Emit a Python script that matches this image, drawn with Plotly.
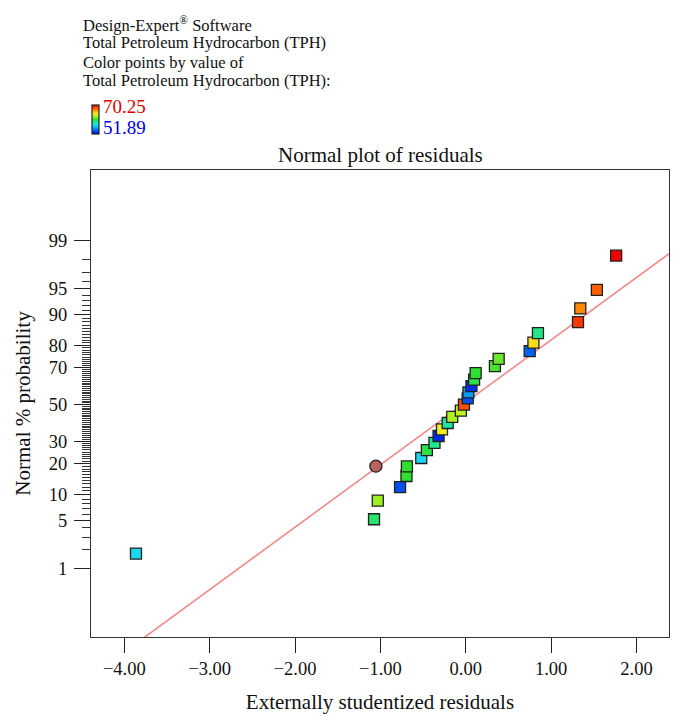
import plotly.graph_objects as go
from statistics import NormalDist

nd = NormalDist()

# ---- data ----
residuals = [-3.863, -1.075, -1.031, -0.770, -0.695, -0.690, -0.522, -0.456, -0.367, -0.319,
             -0.279, -0.212, -0.159, -0.058, -0.022, 0.022, 0.031, 0.066, 0.097, 0.115,
             0.341, 0.385, 0.748, 0.792, 0.845, 1.314, 1.341, 1.535, 1.761]
probabilities = [1.72, 5.17, 8.62, 12.07, 15.52, 18.97, 22.41, 25.86, 29.31, 32.76,
                 36.21, 39.66, 43.10, 46.55, 50.00, 53.45, 56.90, 60.34, 63.79, 67.24,
                 70.69, 74.14, 77.59, 81.03, 84.48, 87.93, 91.38, 94.83, 98.28]
tph = [57.40, 60.15, 62.91, 53.73, 61.07, 61.07, 57.40, 60.70, 59.60, 52.81,
       64.74, 59.23, 63.27, 63.64, 68.41, 53.73, 55.56, 52.99, 60.70, 61.07,
       61.44, 61.99, 54.09, 65.11, 59.78, 68.96, 67.13, 68.05, 70.25]

circle_residual = [-1.053]
circle_probability = [19.1]

line_x = [-4.39, 2.38]
line_intercept = 0.032
line_slope = 0.8865

tph_min, tph_max = 51.89, 70.25
y_tick_percents = [1, 5, 10, 20, 30, 50, 70, 80, 90, 95, 99]
y_minor_percents = list(range(1, 100))
x_tick_vals = [-4, -3, -2, -1, 0, 1, 2]
x_tick_text = ["\u22124.00", "\u22123.00", "\u22122.00", "\u22121.00", "0.00", "1.00", "2.00"]

def z(p):
    return nd.inv_cdf(p / 100.0)

colorscale = [[0.0, '#0000e8'], [0.12, '#0060f0'], [0.25, '#10c0f8'], [0.32, '#20e0f0'],
              [0.42, '#20e890'], [0.5, '#30e030'], [0.6, '#a0f020'], [0.7, '#f0f020'],
              [0.82, '#ff9000'], [0.9, '#ff5000'], [1.0, '#f00000']]

FONT = "Liberation Serif"
INK = '#111111'

# plot area in page pixels (page has an 8px body margin)
PX0, PX1, PY0, PY1 = 91, 669, 170, 637
def px(xp):
    return (xp - PX0) / (PX1 - PX0)
def py(yp):
    return (PY1 - yp) / (PY1 - PY0)

fig = go.Figure()

fig.add_trace(go.Scatter(
    x=line_x, y=[line_intercept + line_slope * v for v in line_x],
    mode='lines', line=dict(color='#f08a8a', width=1.6), hoverinfo='skip', showlegend=False))

fig.add_trace(go.Scatter(
    x=residuals, y=[z(p) for p in probabilities], mode='markers', showlegend=False,
    marker=dict(symbol='square', size=11, color=tph, colorscale=colorscale,
                cmin=tph_min, cmax=tph_max,
                line=dict(color='#202020', width=1.3),
                colorbar=dict(x=px(92), xanchor='left', xref='paper', y=py(119), yanchor='middle',
                              thickness=7, thicknessmode='pixels', len=29, lenmode='pixels',
                              showticklabels=False, ticks='', outlinewidth=1.2,
                              outlinecolor='#202020', xpad=0, ypad=0)),
    cliponaxis=False))

fig.add_trace(go.Scatter(
    x=circle_residual, y=[z(p) for p in circle_probability], mode='markers', showlegend=False,
    marker=dict(symbol='circle', size=12, color='#b86262', line=dict(color='#202020', width=1.3))))

fig.update_layout(
    width=676, height=718,
    margin=dict(l=83, r=15, t=162, b=89),
    paper_bgcolor='white', plot_bgcolor='white',
    font=dict(family=FONT, color=INK, size=17),
    xaxis=dict(range=[-4.39, 2.38], tickvals=x_tick_vals, ticktext=x_tick_text,
               ticks='outside', ticklen=15, tickwidth=1, tickcolor='#222222',
               showline=True, linecolor='#333333', linewidth=1, mirror=True,
               showgrid=False, zeroline=False,
               tickfont=dict(size=18.5, family=FONT),
               title=dict(text='Externally studentized residuals', font=dict(size=21, family=FONT),
                          standoff=16)),
    yaxis=dict(range=[-3.30, 3.33], tickvals=[z(p) for p in y_tick_percents],
               ticktext=[str(p) for p in y_tick_percents],
               ticks='outside', ticklen=16, tickwidth=1, tickcolor='#222222',
               ticklabelstandoff=3,
               minor=dict(tickmode='array', tickvals=[z(p) for p in y_minor_percents],
                          ticks='outside', ticklen=8, tickwidth=1, tickcolor='#333333',
                          showgrid=False),
               showline=True, linecolor='#333333', linewidth=1, mirror=True,
               showgrid=False, zeroline=False,
               tickfont=dict(size=18.5, family=FONT),
               title=dict(text='Normal % probability', font=dict(size=21, family=FONT),
                          standoff=12)),
)

fig.add_annotation(text='Normal plot of residuals', xref='paper', yref='paper',
                   x=0.5, xanchor='center', y=py(155), yanchor='middle', showarrow=False,
                   font=dict(size=21, family=FONT, color=INK))

header_lines = ["Design-Expert<sup>\u00ae</sup> Software",
                "Total Petroleum Hydrocarbon (TPH)",
                "Color points by value of",
                "Total Petroleum Hydrocarbon (TPH):"]
header_y = [24, 43, 62, 81]
for txt, yy in zip(header_lines, header_y):
    fig.add_annotation(text=txt, xref='paper', yref='paper', x=px(81), xanchor='left',
                       y=py(yy), yanchor='middle', showarrow=False,
                       font=dict(size=16.5, family=FONT, color=INK))

fig.add_annotation(text=f"{tph_max:.2f}", xref='paper', yref='paper', x=px(101), xanchor='left',
                   y=py(106.5), yanchor='middle', showarrow=False,
                   font=dict(size=19, family=FONT, color='#e00000'))
fig.add_annotation(text=f"{tph_min:.2f}", xref='paper', yref='paper', x=px(101), xanchor='left',
                   y=py(127.5), yanchor='middle', showarrow=False,
                   font=dict(size=19, family=FONT, color='#0000e0'))

fig.write_html("out.html")
